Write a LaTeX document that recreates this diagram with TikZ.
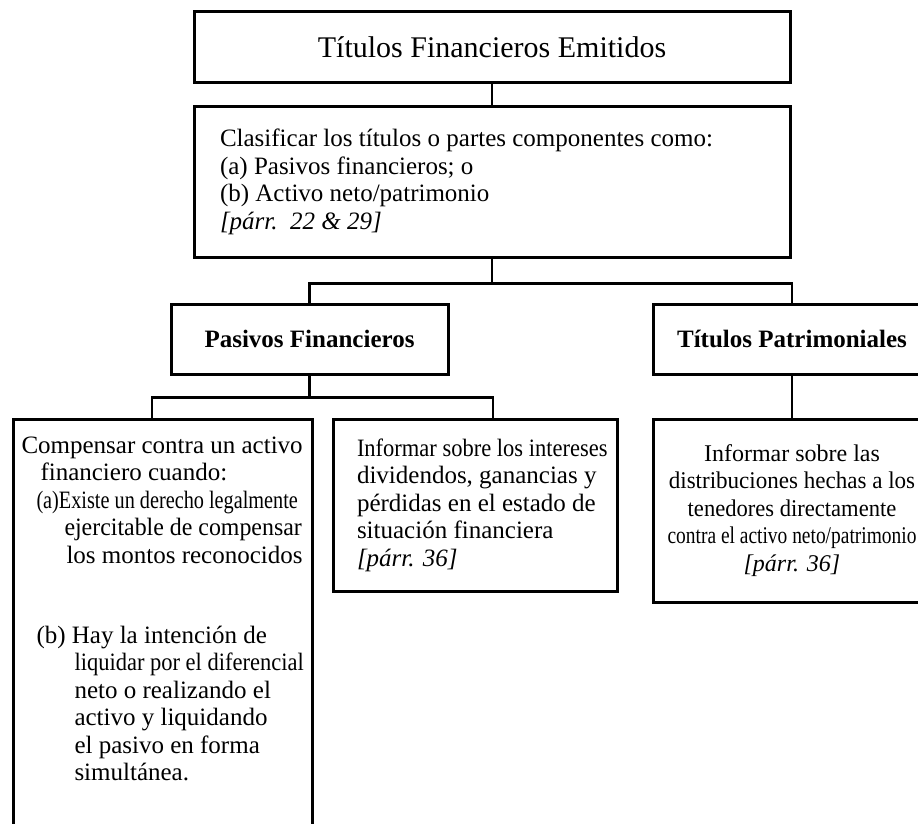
\documentclass[tikz,border=0pt]{standalone}
\usepackage{fontspec}
\setmainfont{Liberation Serif}
\usepackage{graphicx}
\usetikzlibrary{positioning,calc}
\tikzset{
	caja/.style={draw,rectangle,line width=3pt,inner sep=0pt},
	conector/.style={line width=2.6pt}
}
\newcommand{\titulo}{\fontsize{30}{34}\selectfont}
\newcommand{\cuerpo}{\fontsize{25}{27.5}\selectfont}
\newcommand{\cuerpodos}{\fontsize{24}{27.5}\selectfont}

\begin{document}
\begin{tikzpicture}[x=1pt,y=-1pt]
	
	\useasboundingbox (0,0) rectangle (918,824);
	\clip (0,0) rectangle (918,824);
	
	%Cajas de arriba
	\node[caja,minimum width=596pt,minimum height=71pt] (emitidos) at (492,47.5) {\titulo Títulos Financieros Emitidos};
	
	\node[caja,minimum width=596pt,minimum height=150pt] (clasif) at (492,182) {\begin{minipage}{544pt}\cuerpo\raggedright
			Clasificar los títulos o partes componentes como:\\
			(a) Pasivos financieros; o\\
			(b) Activo neto/patrimonio\\
			\textit{[párr.\ \ 22 \& 29]}\end{minipage}};
	
	%Segundo nivel
	\node[caja,minimum width=277pt,minimum height=70pt] (pasivos) at (309.5,339) {\cuerpo\bfseries Pasivos Financieros};
	\node[caja,minimum width=278pt,minimum height=70pt] (patrim) at (792,339) {\cuerpo\bfseries Títulos Patrimoniales};
	
	%Cajas de abajo
	\node[caja,anchor=north west,inner xsep=8pt] (compensar) at (12,418) {\begin{minipage}[c][430pt][t]{283pt}\cuerpo
			\vspace*{17pt}%
			Compensar contra un activo\\
			\hspace*{19pt}financiero cuando:\\
			\hspace*{15pt}\scalebox{0.81}[1]{(a)Existe un derecho legalmente}\\
			\hspace*{43pt}\scalebox{0.955}[1]{ejercitable de compensar}\\
			\hspace*{45pt}los montos reconocidos\\[52.5pt]
			\hspace*{15pt}(b) Hay la intención de\\
			\hspace*{53pt}\scalebox{0.9}[1]{liquidar por el diferencial}\\
			\hspace*{53pt}neto o realizando el\\
			\hspace*{53pt}activo y liquidando\\
			\hspace*{53pt}el pasivo en forma\\
			\hspace*{53pt}simultánea.\end{minipage}};
	
	\node[caja,minimum width=284pt,minimum height=172pt] (informar) at (475,505) {\begin{minipage}{236pt}\cuerpo\raggedright
			\mbox{\scalebox{0.9}[1]{Informar sobre los intereses}}\\
			\mbox{dividendos, ganancias y}\\
			\mbox{pérdidas en el estado de}\\
			\mbox{situación financiera}\\
			\textit{[párr. 36]}\end{minipage}};
	
	\node[caja,minimum width=278pt,minimum height=183pt] (distrib) at (792,510.5) {\begin{minipage}{278pt}\cuerpodos\centering
			Informar sobre las\\
			\scalebox{0.96}[1]{distribuciones hechas a los}\\
			\scalebox{0.94}[1]{tenedores directamente}\\
			\scalebox{0.81}[1]{contra el activo neto/patrimonio}\\
			\textit{[párr. 36]}\end{minipage}};
	
	%Conectores
	\draw[conector] (emitidos.south) -- (clasif.north);
	\draw[conector] (clasif.south) -- ++(0,25) coordinate (ramaA) -| (pasivos.north);
	\draw[conector] (ramaA) -| (patrim.north);
	\draw[conector] (pasivos.south) -- ++(0,22) coordinate (ramaB) -| ([xshift=-11pt]compensar.north);
	\draw[conector] (ramaB) -| ([xshift=18pt]informar.north);
	\draw[conector] (patrim.south) -- (distrib.north);
	
\end{tikzpicture}
\end{document}
